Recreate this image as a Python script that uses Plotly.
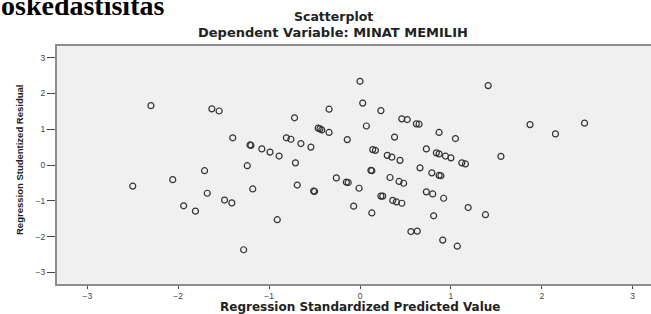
import plotly.graph_objects as go

# Regression Standardized Predicted Value (x) vs Regression Studentized Residual (y)
pred = [
    -2.30, -1.63, -1.55, -0.34, 0.00, -0.72, -0.46, -0.44, -0.42, -0.34,
    -1.40, -0.81, -0.76, -0.14, -1.21, -1.20, -1.08, -0.99, -0.89, -0.65,
    -0.54, -1.24, -0.71, -1.71, -2.06, -2.50, -0.26, -0.15, -0.13, -0.01,
    -0.69, -0.51, -0.50, -1.18, -1.68, -1.49, -1.41, -1.94, -1.81, -0.07,
    -0.91, -1.28,
    1.41, 0.03, 0.23, 0.46, 0.52, 0.62, 0.65, 0.07, 0.87, 1.05,
    0.38, 1.87, 2.15, 2.47, 1.55, 0.14, 0.17, 0.30, 0.35, 0.44,
    0.73, 0.84, 0.87, 0.94, 1.00, 1.12, 1.16, 0.12, 0.13, 0.66,
    0.79, 0.87, 0.89, 0.33, 0.43, 0.48, 0.23, 0.25, 0.36, 0.40,
    0.46, 0.73, 0.80, 0.92, 0.13, 0.81, 1.19, 1.38, 0.56, 0.63,
    0.91, 1.07,
]
resid = [
    1.66, 1.57, 1.51, 1.56, 2.34, 1.32, 1.03, 1.01, 0.98, 0.91,
    0.76, 0.76, 0.72, 0.71, 0.56, 0.55, 0.45, 0.36, 0.25, 0.60,
    0.50, -0.02, 0.06, -0.16, -0.41, -0.59, -0.36, -0.48, -0.49, -0.65,
    -0.56, -0.73, -0.74, -0.67, -0.79, -0.98, -1.06, -1.14, -1.29, -1.15,
    -1.53, -2.37,
    2.22, 1.73, 1.52, 1.29, 1.27, 1.15, 1.14, 1.09, 0.91, 0.74,
    0.78, 1.13, 0.87, 1.17, 0.24, 0.43, 0.41, 0.27, 0.22, 0.13,
    0.45, 0.34, 0.31, 0.25, 0.20, 0.06, 0.03, -0.15, -0.16, -0.08,
    -0.22, -0.29, -0.30, -0.35, -0.46, -0.51, -0.87, -0.87, -0.99, -1.03,
    -1.07, -0.75, -0.81, -0.93, -1.34, -1.42, -1.19, -1.39, -1.86, -1.85,
    -2.10, -2.27,
]
tick_vals = [-3, -2, -1, 0, 1, 2, 3]

heading = "oskedastisitas"
title1 = "Scatterplot"
title2 = "Dependent Variable: MINAT MEMILIH"
x_title = "Regression Standardized Predicted Value"
y_title = "Regression Studentized Residual"

W, H = 651, 314
ML, MR, MT, MB = 57, 0, 46, 30
PW, PH = W - ML - MR, H - MT - MB


def px_x(p):
    return (p - ML) / PW


def px_y(p):
    return (H - MB - p) / PH


fig = go.Figure()
fig.add_trace(go.Scatter(
    x=pred, y=resid, mode="markers",
    marker=dict(symbol="circle-open", size=6,
                line=dict(color="#333333", width=1.2), color="#333333"),
    hoverinfo="x+y", showlegend=False,
))

axis_common = dict(
    tickvals=tick_vals, ticks="outside", tickcolor="#444444",
    tickfont=dict(family="Liberation Sans, Arial, sans-serif", size=8.5, color="#444444"),
    showgrid=False, zeroline=False, showline=True,
    linecolor="#8c8c8c", linewidth=2,
)

fig.update_layout(
    width=W, height=H,
    margin=dict(l=ML, r=MR, t=MT, b=MB, pad=0),
    paper_bgcolor="white", plot_bgcolor="#f0f0f0",
    xaxis=dict(range=[-3.333, 3.201], ticklen=3, mirror=True, **axis_common),
    yaxis=dict(range=[-3.327, 3.327], ticklen=8, mirror=False, **axis_common),
    annotations=[
        dict(text="<b>" + heading + "</b>", xref="paper", yref="paper",
             x=px_x(-1), y=px_y(6), xanchor="left", yanchor="middle", showarrow=False,
             font=dict(family="Liberation Serif, Times New Roman, serif", size=28, color="black")),
        dict(text="<b>" + title1 + "</b>", xref="paper", yref="paper",
             x=px_x(333), y=px_y(16), xanchor="center", yanchor="middle", showarrow=False,
             font=dict(family="DejaVu Sans, sans-serif", size=12.5, color="#222222")),
        dict(text="<b>" + title2 + "</b>", xref="paper", yref="paper",
             x=px_x(333), y=px_y(33), xanchor="center", yanchor="middle", showarrow=False,
             font=dict(family="DejaVu Sans, sans-serif", size=13, color="#222222")),
        dict(text="<b>" + x_title + "</b>", xref="paper", yref="paper",
             x=px_x(360), y=px_y(307), xanchor="center", yanchor="middle", showarrow=False,
             font=dict(family="DejaVu Sans, sans-serif", size=12, color="#222222")),
        dict(text="<b>" + y_title + "</b>", xref="paper", yref="paper",
             x=px_x(19), y=px_y(160), xanchor="center", yanchor="middle", showarrow=False,
             textangle=-90,
             font=dict(family="Liberation Sans Narrow, Liberation Sans, Arial, sans-serif",
                       size=9.5, color="#222222")),
    ],
)

fig.write_html("out.html", config={"displayModeBar": False},
               post_script="document.body.style.margin='0';")
